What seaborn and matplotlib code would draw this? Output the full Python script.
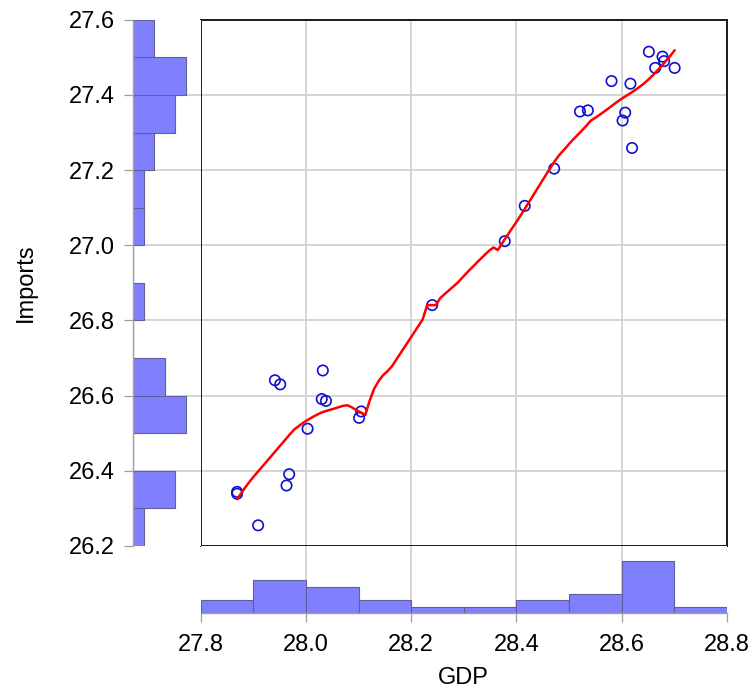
import numpy as np
import pandas as pd
import matplotlib
matplotlib.use("Agg")
import matplotlib.pyplot as plt
import seaborn as sns

# Observations: GDP vs Imports
gdp = [27.869, 27.869, 27.909, 27.968, 27.963, 27.941, 27.951, 28.003, 28.032,
       28.030, 28.038, 28.105, 28.101, 28.240, 28.378, 28.416, 28.472, 28.521,
       28.536, 28.581, 28.617, 28.607, 28.602, 28.620, 28.652, 28.664, 28.678,
       28.681, 28.701]
imports = [26.344, 26.339, 26.255, 26.391, 26.361, 26.641, 26.630, 26.512, 26.667,
           26.591, 26.586, 26.558, 26.541, 26.841, 27.011, 27.105, 27.204, 27.356,
           27.359, 27.437, 27.430, 27.353, 27.332, 27.259, 27.515, 27.472, 27.502,
           27.490, 27.472]

x_ticks = [27.8, 28.0, 28.2, 28.4, 28.6, 28.8]
y_ticks = [26.2, 26.4, 26.6, 26.8, 27.0, 27.2, 27.4, 27.6]
x_bins = [27.8, 27.9, 28.0, 28.1, 28.2, 28.3, 28.4, 28.5, 28.6, 28.7, 28.8]
y_bins = [26.2, 26.3, 26.4, 26.5, 26.6, 26.7, 26.8, 26.9, 27.0, 27.1, 27.2,
          27.3, 27.4, 27.5, 27.6]

df = pd.DataFrame({"GDP": gdp, "Imports": imports})


def kernel_fit(x, y, n_grid=100, bw_frac=0.15):
    """Local linear regression with an Epanechnikov kernel."""
    x = np.asarray(x, float)
    y = np.asarray(y, float)
    h = bw_frac * (x.max() - x.min())
    grid = np.linspace(x.min(), x.max(), n_grid)
    fit = []
    for g in grid:
        d = x - g
        u = d / h
        w = np.where(np.abs(u) < 1, 0.75 * (1 - u ** 2), 0.0)
        sw = w.sum()
        s1 = (w * d).sum()
        s2 = (w * d * d).sum()
        den = sw * s2 - s1 ** 2
        if den <= 1e-9 * max(sw * s2, 1e-300):
            fit.append((w * y).sum() / sw)
        else:
            fit.append(((s2 - s1 * d) * w * y).sum() / den)
    return pd.DataFrame({"GDP": grid, "Imports": fit})


fit_df = kernel_fit(gdp, imports)

sns.set_theme(style="white")
plt.rcParams["font.family"] = ["Liberation Sans", "DejaVu Sans"]

W, H = 755, 692
fig = plt.figure(figsize=(W / 100, H / 100), dpi=100)


def rect(l, t, r, b):
    return [l / W, 1 - b / H, (r - l) / W, (b - t) / H]


ax = fig.add_axes(rect(200.8, 19.8, 726.7, 546.0))
axl = fig.add_axes(rect(133.3, 19.8, 200.8, 546.0), sharey=ax)
axb = fig.add_axes(rect(200.8, 546.0, 726.7, 613.3), sharex=ax)
for a in (ax, axl, axb):
    a.xaxis.remove_overlapping_locs = False
    a.yaxis.remove_overlapping_locs = False

grid_color = "#d2d2d2"
tick_color = "#a0a0a0"
bar_face = "#8080ff"
bar_edge = "#5f5f99"

# Main scatter + kernel fit
sns.scatterplot(data=df, x="GDP", y="Imports", ax=ax, marker="o", s=56,
                facecolors="none", edgecolors="#1010d0", linewidth=1.2, zorder=3)
sns.lineplot(data=fit_df, x="GDP", y="Imports", ax=ax, color="#ff0000",
             linewidth=1.8, zorder=4, sort=False)

ax.set_xlim(x_ticks[0], x_ticks[-1])
ax.set_ylim(y_ticks[0], y_ticks[-1])
ax.set_xticks(x_ticks)
ax.set_yticks(y_ticks)
ax.set_xticks(x_ticks[1:-1], minor=True)
ax.set_yticks(y_ticks[1:-1], minor=True)
ax.grid(False)
ax.grid(True, which="minor", color=grid_color, linewidth=1.3)
ax.set_axisbelow(True)
ax.tick_params(which="both", length=0, labelleft=False, labelbottom=False)
ax.set_xlabel("")
ax.set_ylabel("")
for s in ax.spines.values():
    s.set_visible(True)
    s.set_color("#1a1a1a")
    s.set_linewidth(1.4)

# Left marginal histogram (Imports)
sns.histplot(y=imports, bins=y_bins, ax=axl, color=bar_face, edgecolor=bar_edge,
             alpha=1, linewidth=0.8, stat="count")
axl.set_xlim(0, 67.5 / 10.54)
axl.grid(False)
axl.grid(True, which="minor", axis="y", color=grid_color, linewidth=1.3)
axl.set_axisbelow(True)
axl.set_xticks([])
axl.tick_params(axis="y", which="major", left=True, length=6.5, width=0.9,
                color=tick_color, labelsize=17, pad=6.5, labelleft=True,
                labelcolor="black")
axl.tick_params(axis="y", which="minor", length=0, labelleft=False)
axl.set_yticklabels([f"{v:.1f}" for v in y_ticks])
axl.set_xlabel("")
axl.set_ylabel("Imports", fontsize=17, color="black")
axl.yaxis.set_label_coords(-1.43, 0.5)
for k, s in axl.spines.items():
    s.set_visible(k == "left")
axl.spines["left"].set_color(tick_color)
axl.spines["left"].set_linewidth(1.0)

# Bottom marginal histogram (GDP)
sns.histplot(x=gdp, bins=x_bins, ax=axb, color=bar_face, edgecolor=bar_edge,
             alpha=1, linewidth=0.8, stat="count")
axb.set_ylim(0, 67.3 / 6.59)
axb.grid(False)
axb.grid(True, which="minor", axis="x", color=grid_color, linewidth=1.3)
axb.set_axisbelow(True)
axb.set_yticks([])
axb.tick_params(axis="x", which="major", bottom=True, length=6.3, width=0.9,
                color=tick_color, labelsize=17, pad=8.3, labelbottom=True,
                labelcolor="black")
axb.tick_params(axis="x", which="minor", length=0, labelbottom=False)
axb.set_xticklabels([f"{v:.1f}" for v in x_ticks])
axb.set_ylabel("")
axb.set_xlabel("GDP", fontsize=17, color="black", labelpad=8)
for k, s in axb.spines.items():
    s.set_visible(k == "bottom")
axb.spines["bottom"].set_color(tick_color)
axb.spines["bottom"].set_linewidth(1.0)

fig.savefig("out.png", dpi=100)
